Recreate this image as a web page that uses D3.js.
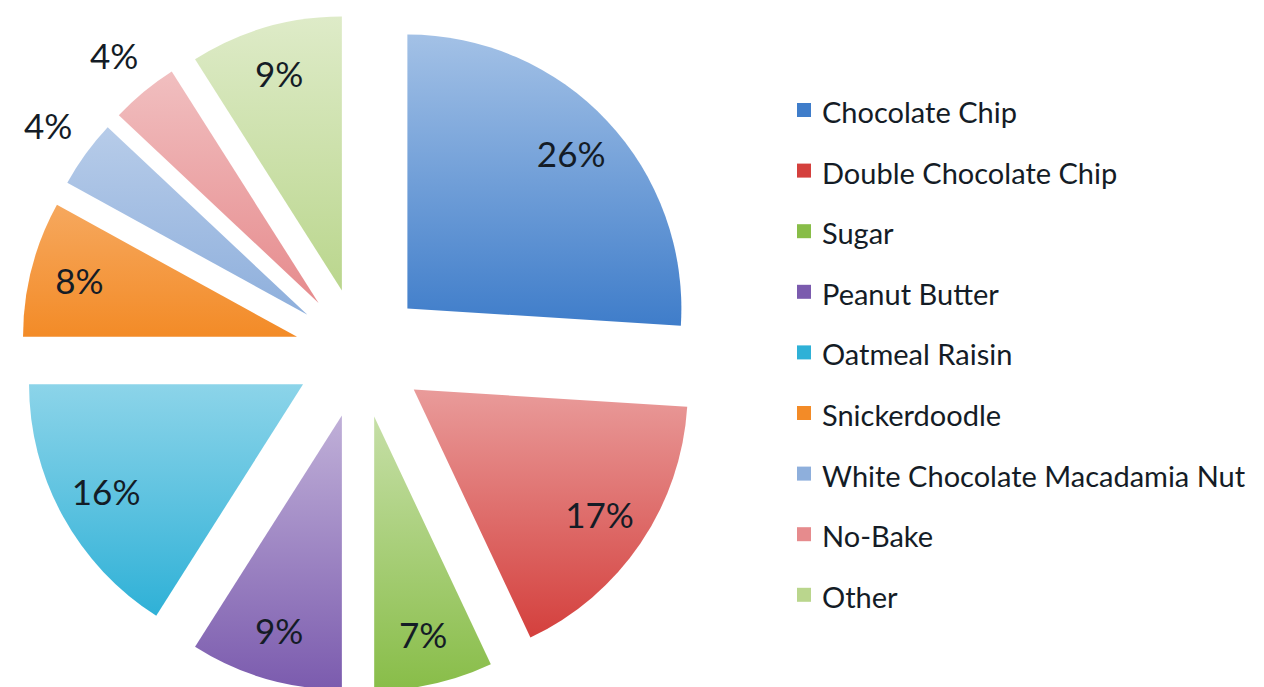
<!DOCTYPE html>
<html lang="en">
<head>
    <meta charset="UTF-8">
    <title>Cookie Preferences</title>
    <script src="https://d3js.org/d3.v7.min.js"></script>
    <style>
        body { margin: 0; background: #fff; }
        text { font-family: Lato, "Open Sans", sans-serif; fill: #141c26; }
    </style>
</head>
<body>
    <svg id="chart" width="1264" height="687"></svg>

    <script>
        // chart data
        const categories = ['Chocolate Chip', 'Double Chocolate Chip', 'Sugar', 'Peanut Butter',
            'Oatmeal Raisin', 'Snickerdoodle', 'White Chocolate Macadamia Nut', 'No-Bake', 'Other'];
        const percents = [26, 17, 7, 9, 16, 8, 4, 4, 9];

        // base colours (bottom of each slice), tops get lightened
        const colors = ['#3f7dca', '#d4403d', '#88bd48', '#7b5bae', '#2fb1d7',
            '#f38b27', '#8eafdc', '#e68b8d', '#bad68d'];

        const svg = d3.select('#chart');
        const cx = 360, cy = 353;      // pie centre
        const radius = 274;
        const explode = 65;            // every slice pulled out by this much
        const fadeLen = 270;           // px over which the light top fades to the base colour

        const rows = categories.map((c, i) => ({ name: c, value: percents[i], color: colors[i] }));

        const pie = d3.pie().sort(null).value(d => d.value);
        const arc = d3.arc().innerRadius(0).outerRadius(radius);
        const arcsData = pie(rows);

        const mid = d => (d.startAngle + d.endAngle) / 2;
        const shift = d => [Math.sin(mid(d)) * explode, -Math.cos(mid(d)) * explode];

        const defs = svg.append('defs');
        const pieG = svg.append('g').attr('transform', `translate(${cx},${cy})`);

        const slices = pieG.selectAll('.slice')
            .data(arcsData)
            .enter()
            .append('g')
            .attr('class', 'slice')
            .attr('transform', d => `translate(${shift(d)[0]},${shift(d)[1]})`);

        slices.append('path')
            .attr('d', arc)
            .each(function (d, i) {
                // vertical gradient, base colour at the bottom; short slices get a smaller highlight
                const h = this.getBBox().height;
                const top = d3.interpolateRgb(d.data.color, '#ffffff')(0.52 * Math.min(1, h / fadeLen));
                const g = defs.append('linearGradient')
                    .attr('id', 'grad' + i)
                    .attr('x1', 0).attr('y1', 0).attr('x2', 0).attr('y2', 1);
                g.append('stop').attr('offset', '0%').attr('stop-color', top);
                g.append('stop').attr('offset', '100%').attr('stop-color', d.data.color);
                d3.select(this).attr('fill', `url(#grad${i})`);
            });

        // labels: inside for big slices, outside for the small ones
        const labelArcIn = d3.arc().innerRadius(radius * 0.82).outerRadius(radius * 0.82);
        const labelArcOut = d3.arc().innerRadius(radius * 1.17).outerRadius(radius * 1.17);

        slices.append('text')
            .attr('transform', d => {
                const p = d.data.value < 5 ? labelArcOut.centroid(d) : labelArcIn.centroid(d);
                return `translate(${p[0]},${p[1]})`;
            })
            .attr('text-anchor', 'middle')
            .attr('dy', '0.36em')
            .style('font-size', '35px')
            .text(d => d.data.value + '%');

        // legend
        const legend = svg.append('g').attr('transform', 'translate(797,123)');
        const item = legend.selectAll('.legend-item')
            .data(rows)
            .enter()
            .append('g')
            .attr('class', 'legend-item')
            .attr('transform', (d, i) => `translate(0,${i * 60.6})`);

        item.append('rect')
            .attr('x', 0)
            .attr('y', -20)
            .attr('width', 14)
            .attr('height', 14)
            .attr('fill', d => d.color);

        item.append('text')
            .attr('x', 25)
            .attr('y', 0)
            .style('font-size', '29px')
            .text(d => d.name);
    </script>
</body>
</html>
